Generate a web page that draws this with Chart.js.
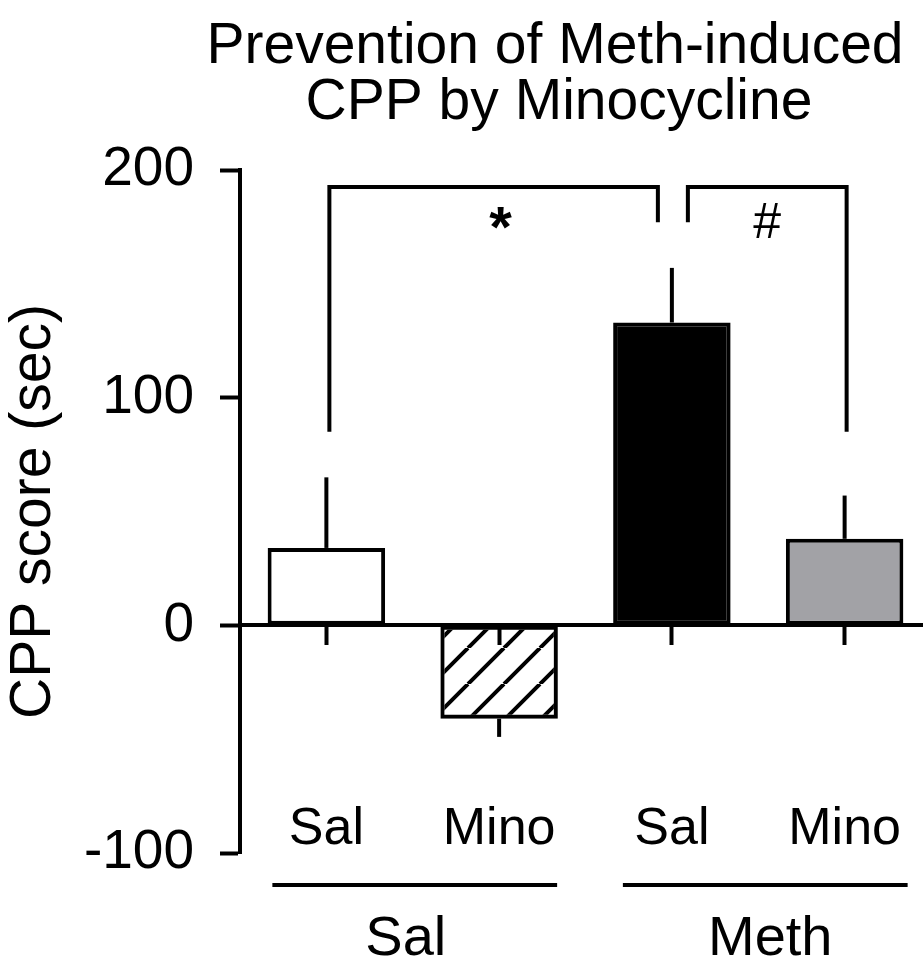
<!DOCTYPE html>
<html>
<head>
<meta charset="utf-8">
<script src="https://cdn.jsdelivr.net/npm/chart.js@4/dist/chart.umd.min.js"></script>
<style>
html, body { margin: 0; padding: 0; background: #ffffff; overflow: hidden; width: 923px; height: 957px; }
canvas { display: block; }
</style>
</head>
<body>
<canvas id="chart" width="931" height="957"></canvas>
<script>
// ---- data ----
const categories = ['Sal', 'Mino', 'Sal', 'Mino'];
const groupLabels = ['Sal', 'Meth'];
const groupMembers = [[0, 1], [2, 3]];
const means = [34, -41, 133, 38];
const sems = [31, 8, 24, 19];
const yTicks = [-100, 0, 100, 200];
const titleLines = ['Prevention of Meth-induced', 'CPP by Minocycline'];
const yTitle = 'CPP score (sec)';
const brackets = [
  { from: 0, to: 2, label: '*', top: 192.5, leftLeg: 85, rightLeg: 177 },
  { from: 2, to: 3, label: '#', top: 192.5, leftLeg: 177, rightLeg: 85 }
];

const FONT = "'Liberation Sans', Arial, Helvetica, sans-serif";

// hatch pattern for the Sal/Mino bar
function makeHatch() {
  const s = 36;
  const c = document.createElement('canvas');
  c.width = s; c.height = s;
  const g = c.getContext('2d');
  g.strokeStyle = '#000';
  g.lineWidth = 4;
  g.beginPath();
  for (let k = -1; k <= 1; k++) {
    g.moveTo(k * s, s);
    g.lineTo(k * s + s, 0);
  }
  g.stroke();
  return document.getElementById('chart').getContext('2d').createPattern(c, 'repeat');
}
const hatch = makeHatch();

const errorBarPlugin = {
  id: 'errorBars',
  afterDatasetsDraw(chart) {
    const ctx = chart.ctx;
    const xs = chart.scales.x, ys = chart.scales.y;
    ctx.save();
    ctx.strokeStyle = '#000';
    ctx.lineWidth = 4;
    ctx.lineCap = 'butt';
    means.forEach((m, i) => {
      const x = xs.getPixelForValue(i);
      const dir = m >= 0 ? 1 : -1;
      ctx.beginPath();
      ctx.moveTo(x, ys.getPixelForValue(m));
      ctx.lineTo(x, ys.getPixelForValue(m + dir * sems[i]));
      ctx.stroke();
    });
    ctx.restore();
  }
};

const annotationPlugin = {
  id: 'annotations',
  afterDraw(chart) {
    const ctx = chart.ctx;
    const xs = chart.scales.x, ys = chart.scales.y;
    ctx.save();
    ctx.fillStyle = '#000';
    ctx.strokeStyle = '#000';
    ctx.lineWidth = 4;
    ctx.lineCap = 'butt';
    ctx.lineJoin = 'miter';

    // significance brackets
    const ends = [[3, -14], [16, 2]];
    brackets.forEach((b, k) => {
      const x1 = xs.getPixelForValue(b.from) + ends[k][0];
      const x2 = xs.getPixelForValue(b.to) + ends[k][1];
      const yt = ys.getPixelForValue(b.top);
      ctx.beginPath();
      ctx.moveTo(x1, ys.getPixelForValue(b.leftLeg));
      ctx.lineTo(x1, yt);
      ctx.lineTo(x2, yt);
      ctx.lineTo(x2, ys.getPixelForValue(b.rightLeg));
      ctx.stroke();
      ctx.textAlign = 'center';
      ctx.textBaseline = 'alphabetic';
      if (b.label === '*') {
        ctx.font = `bold 58px ${FONT}`;
        ctx.fillText(b.label, (x1 + x2) / 2 + 7, yt + 60);
      } else {
        ctx.font = `50px ${FONT}`;
        ctx.fillText(b.label, (x1 + x2) / 2, yt + 51);
      }
    });

    // group lines and group labels
    const lineEnds = [[-54, 58], [-49, 63]];
    const labelShift = [-7, 12];
    const yLine = 885;
    ctx.textAlign = 'center';
    ctx.textBaseline = 'alphabetic';
    ctx.font = `56px ${FONT}`;
    groupMembers.forEach((mem, g) => {
      const pa = xs.getPixelForValue(mem[0]);
      const pb = xs.getPixelForValue(mem[1]);
      ctx.beginPath();
      ctx.moveTo(pa + lineEnds[g][0], yLine);
      ctx.lineTo(pb + lineEnds[g][1], yLine);
      ctx.stroke();
      ctx.fillText(groupLabels[g], (pa + pb) / 2 + labelShift[g], 955);
    });

    // title
    ctx.font = `57px ${FONT}`;
    ctx.fillText(titleLines[0], 555, 63);
    ctx.fillText(titleLines[1], 559, 119);
    ctx.restore();
  }
};

new Chart(document.getElementById('chart'), {
  type: 'bar',
  data: {
    labels: categories,
    datasets: [{
      data: means,
      backgroundColor: ['#ffffff', hatch, '#000000', '#a2a2a6'],
      borderColor: '#000000',
      borderWidth: 4,
      borderSkipped: false,
      barPercentage: 0.68,
      categoryPercentage: 1.0,
      xAxisID: 'x',
      yAxisID: 'y'
    }]
  },
  options: {
    responsive: false,
    animation: false,
    devicePixelRatio: 1,
    layout: { padding: { top: 170, right: 0, left: 0, bottom: 104 } },
    plugins: { legend: { display: false }, tooltip: { enabled: false }, title: { display: false } },
    scales: {
      y: {
        axis: 'y',
        position: 'left',
        min: -100,
        max: 200,
        afterBuildTicks: (s) => { s.ticks = yTicks.map(v => ({ value: v })); },
        afterFit: (s) => { s.width = 240; },
        ticks: { font: { size: 55, family: FONT }, color: '#000', padding: 26 },
        grid: { drawOnChartArea: false, drawTicks: true, tickLength: 20, tickWidth: 4, tickColor: '#000' },
        border: { display: true, color: '#000', width: 4 },
        title: { display: true, text: yTitle, color: '#000', font: { size: 57, family: FONT }, padding: { top: 0, bottom: 0 } }
      },
      x: {
        axis: 'x',
        type: 'category',
        labels: categories,
        position: { y: 0 },
        offset: true,
        ticks: { display: false },
        grid: { offset: false, drawOnChartArea: false, drawTicks: true, tickLength: 18, tickWidth: 4, tickColor: '#000' },
        border: { display: true, color: '#000', width: 4 }
      },
      xCat: {
        axis: 'x',
        type: 'category',
        labels: categories,
        position: { y: -76 },
        offset: true,
        ticks: { font: { size: 52, family: FONT }, color: '#000', padding: 0, maxRotation: 0, autoSkip: false },
        grid: { display: false, drawTicks: false },
        border: { display: false }
      }
    }
  },
  plugins: [errorBarPlugin, annotationPlugin]
});
</script>
</body>
</html>
